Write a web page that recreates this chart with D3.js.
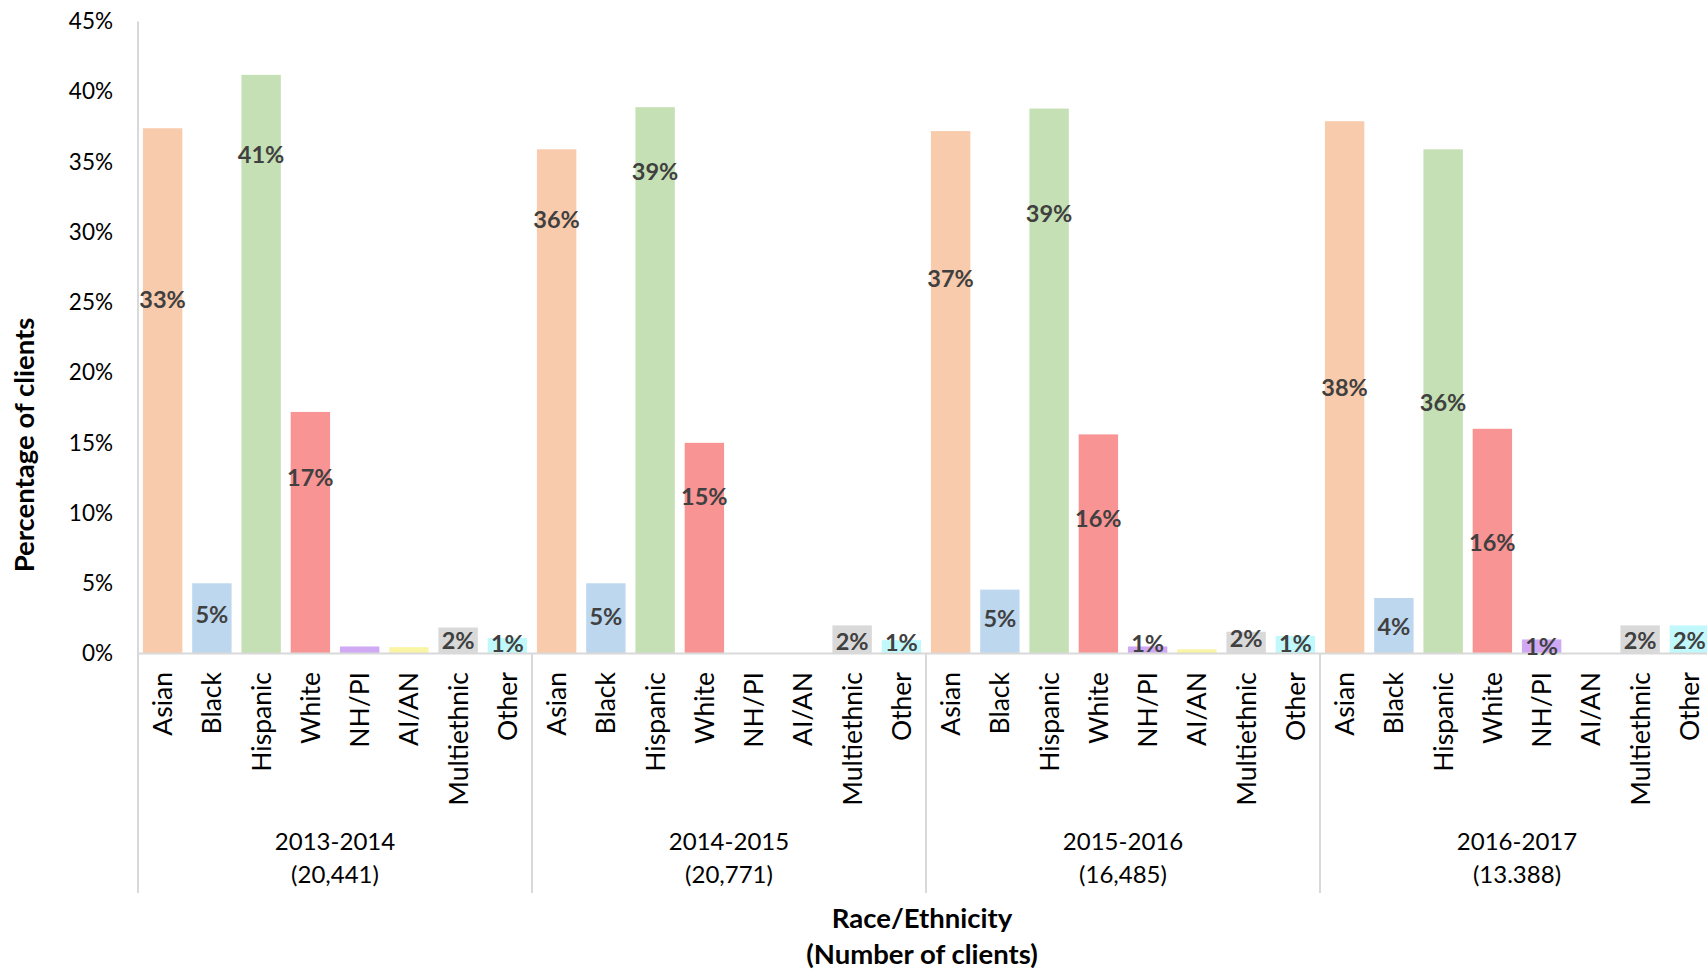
<!DOCTYPE html>
<html>
<head>
<meta charset="utf-8">
<script src="https://cdn.jsdelivr.net/npm/d3@7"></script>
<style>
  body { margin: 0; background: #fff; }
  svg { display: block; font-family: Lato, "Open Sans", sans-serif; }
</style>
</head>
<body>
<div id="chart"></div>
<script>
// data
var groups = ["2013-2014", "2014-2015", "2015-2016", "2016-2017"]
var groupCounts = ["(20,441)", "(20,771)", "(16,485)", "(13.388)"]
var categories = ["Asian", "Black", "Hispanic", "White", "NH/PI", "AI/AN", "Multiethnic", "Other"]
var yTicks = [0, 5, 10, 15, 20, 25, 30, 35, 40, 45]

// bar heights (percent)
var values2013 = [37.4, 5.0, 41.2, 17.2, 0.5, 0.45, 1.85, 1.1]
var values2014 = [35.9, 5.0, 38.9, 15.0, 0, 0, 2.0, 0.95]
var values2015 = [37.2, 4.55, 38.8, 15.6, 0.5, 0.3, 1.55, 1.25]
var values2016 = [37.9, 3.95, 35.9, 16.0, 1.0, 0, 2.0, 2.0]

// data label text as printed on the chart
var labels2013 = ["33%", "5%", "41%", "17%", "", "", "2%", "1%"]
var labels2014 = ["36%", "5%", "39%", "15%", "", "", "2%", "1%"]
var labels2015 = ["37%", "5%", "39%", "16%", "1%", "", "2%", "1%"]
var labels2016 = ["38%", "4%", "36%", "16%", "1%", "", "2%", "2%"]

// where each label sits (percent units)
var labelAt2013 = [25.2, 2.75, 35.5, 12.5, 0, 0, 0.89, 0.7]
var labelAt2014 = [30.9, 2.62, 34.3, 11.2, 0, 0, 0.83, 0.77]
var labelAt2015 = [26.7, 2.46, 31.3, 9.63, 0.74, 0, 1.08, 0.7]
var labelAt2016 = [18.95, 1.92, 17.9, 7.9, 0.46, 0, 0.95, 0.95]

var colors = ["#f8cbad", "#bdd7ee", "#c5e0b4", "#f99494", "#cfa9f4", "#faf4a5", "#d9d9d9", "#c0f8fb"]

var allValues = [values2013, values2014, values2015, values2016]
var allLabels = [labels2013, labels2014, labels2015, labels2016]
var allLabelAt = [labelAt2013, labelAt2014, labelAt2015, labelAt2016]

var width = 1707, height = 969
var plotLeft = 138, plotRight = 1714, plotTop = 21.5, base = 653.5, bottomLine = 893

var svg = d3.select("#chart").append("svg")
    .attr("width", width)
    .attr("height", height)

var x0 = d3.scaleBand().domain(groups).range([plotLeft, plotRight]).padding(0)
var x1 = d3.scaleBand().domain(categories).range([0, x0.bandwidth()])
    .paddingInner(0.2).paddingOuter(0.1)
var y = d3.scaleLinear().domain([0, 45]).range([base, plotTop])
var color = d3.scaleOrdinal().domain(categories).range(colors)

// y axis tick labels
var yAxis = svg.append("g")
    .attr("transform", "translate(" + plotLeft + ",0)")
    .call(d3.axisLeft(y).tickValues(yTicks).tickSize(0).tickPadding(25)
        .tickFormat(function(d) { return d + "%" }))
yAxis.select(".domain").remove()
yAxis.selectAll("text")
    .style("font-family", "Lato, sans-serif")
    .style("font-size", "22.5px")
    .attr("fill", "#000")

// table data
var rows = []
groups.forEach(function(g, gi) {
    categories.forEach(function(c, ci) {
        rows.push({group: g, cat: c, value: allValues[gi][ci],
                   label: allLabels[gi][ci], at: allLabelAt[gi][ci]})
    })
})

// bars
svg.append("g").selectAll("rect")
    .data(rows)
    .enter().append("rect")
    .attr("x", function(d) { return x0(d.group) + x1(d.cat) })
    .attr("y", function(d) { return y(d.value) })
    .attr("width", x1.bandwidth())
    .attr("height", function(d) { return y(0) - y(d.value) })
    .attr("fill", function(d) { return color(d.cat) })

// axis lines
var lineColor = "#d9d9d9"
svg.append("line")
    .attr("x1", plotLeft).attr("x2", plotRight)
    .attr("y1", base).attr("y2", base)
    .attr("stroke", lineColor).attr("stroke-width", 2)
svg.append("line")
    .attr("x1", plotLeft).attr("x2", plotLeft)
    .attr("y1", plotTop).attr("y2", bottomLine)
    .attr("stroke", lineColor).attr("stroke-width", 2)
svg.append("g").selectAll("line")
    .data(groups.slice(1).concat(["end"]))
    .enter().append("line")
    .attr("x1", function(d) { return d == "end" ? plotRight : x0(d) })
    .attr("x2", function(d) { return d == "end" ? plotRight : x0(d) })
    .attr("y1", base).attr("y2", bottomLine)
    .attr("stroke", lineColor).attr("stroke-width", 2)

// data labels
svg.append("g").selectAll("text")
    .data(rows.filter(function(d) { return d.label != "" }))
    .enter().append("text")
    .attr("x", function(d) { return x0(d.group) + x1(d.cat) + x1.bandwidth() / 2 })
    .attr("y", function(d) { return y(d.at) })
    .attr("dy", "0.36em")
    .attr("text-anchor", "middle")
    .style("font-weight", "bold")
    .style("font-size", "23.5px")
    .attr("fill", "#404040")
    .text(function(d) { return d.label })

// category labels (rotated)
svg.append("g").selectAll("text")
    .data(rows)
    .enter().append("text")
    .attr("transform", function(d) {
        var cx = x0(d.group) + x1(d.cat) + x1.bandwidth() / 2
        return "translate(" + cx + "," + 672 + ") rotate(-90)"
    })
    .attr("dy", "0.36em")
    .attr("text-anchor", "end")
    .style("font-size", "26.5px")
    .attr("fill", "#000")
    .text(function(d) { return d.cat })

// group labels
var gl = svg.append("g").selectAll("text")
    .data(groups)
    .enter().append("text")
    .attr("x", function(d) { return x0(d) + x0.bandwidth() / 2 })
    .attr("text-anchor", "middle")
    .style("font-size", "24px")
    .attr("fill", "#000")
gl.append("tspan")
    .attr("x", function(d) { return x0(d) + x0.bandwidth() / 2 })
    .attr("y", 850)
    .text(function(d) { return d })
gl.append("tspan")
    .attr("x", function(d) { return x0(d) + x0.bandwidth() / 2 })
    .attr("y", 883)
    .text(function(d, i) { return groupCounts[i] })

// x axis title
var xt = svg.append("text")
    .attr("text-anchor", "middle")
    .style("font-weight", "bold")
    .style("font-size", "27.5px")
    .attr("fill", "#000")
xt.append("tspan").attr("x", 922).attr("y", 928).text("Race/Ethnicity")
xt.append("tspan").attr("x", 922).attr("y", 964).text("(Number of clients)")

// y axis title
svg.append("text")
    .attr("transform", "translate(24,445) rotate(-90)")
    .attr("dy", "0.36em")
    .attr("text-anchor", "middle")
    .style("font-weight", "bold")
    .style("font-size", "27.5px")
    .attr("fill", "#000")
    .text("Percentage of clients")
</script>
</body>
</html>
